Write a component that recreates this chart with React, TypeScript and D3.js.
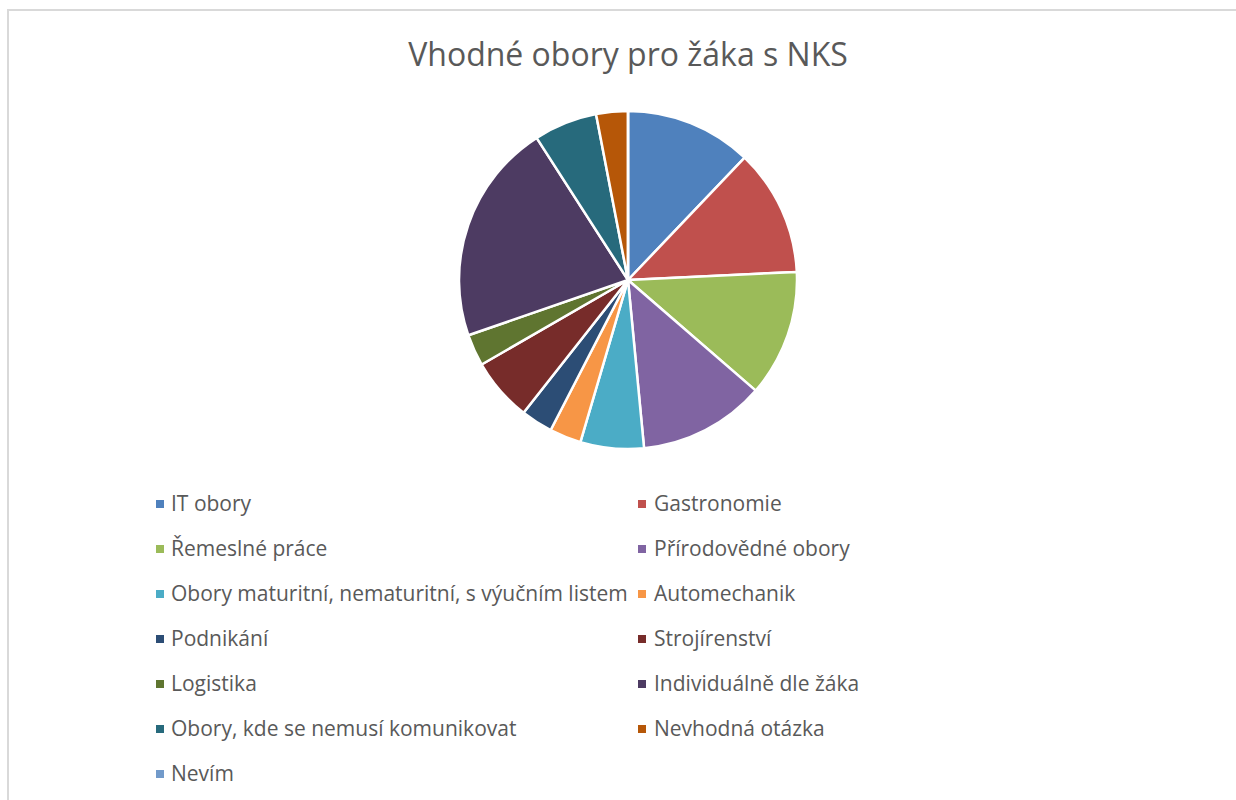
import React from "react";
import * as d3 from "d3";

const categories = [
  "IT obory",
  "Gastronomie",
  "Řemeslné práce",
  "Přírodovědné obory",
  "Obory maturitní, nematuritní, s výučním listem",
  "Automechanik",
  "Podnikání",
  "Strojírenství",
  "Logistika",
  "Individuálně dle žáka",
  "Obory, kde se nemusí komunikovat",
  "Nevhodná otázka",
  "Nevím",
];
const values = [4, 4, 4, 4, 2, 1, 1, 2, 1, 7, 2, 1, 0];
const colors = [
  "#4F81BD", "#C0504D", "#9BBB59", "#8064A2", "#4BACC6", "#F79646",
  "#2C4D75", "#772C2A", "#5F7530", "#4D3B62", "#276A7C", "#B65708", "#729ACA",
];
const title = "Vhodné obory pro žáka s NKS";

export default function App() {
  const W = 1236, H = 800;
  const cx = 628, cy = 280, r = 169;
  const pie = d3.pie<number>().sort(null).value((d) => d)(values);
  const arc = d3.arc<d3.PieArcDatum<number>>().innerRadius(0).outerRadius(r);
  const font = "'Open Sans', 'Liberation Sans', sans-serif";
  const markX = [156, 638];
  const textX = [171, 654];
  const rowY0 = 504, rowStep = 45;
  return (
    <svg width={W} height={H} style={{ position: "absolute", left: 0, top: 0 }}>
      <rect x={0} y={0} width={W} height={H} fill="#fff" />
      <rect x={8} y={10} width={W + 20} height={H + 20} fill="#fff" stroke="#D9D9D9" strokeWidth={2} />
      <text x={cx} y={66} textAnchor="middle" fontFamily={font} fontSize={32} fill="#595959">
        {title}
      </text>
      <g transform={`translate(${cx},${cy})`}>
        {pie.map((p, i) => (
          <path key={i} d={arc(p) || ""} fill={colors[i]} stroke="#fff" strokeWidth={2.5} strokeLinejoin="round" />
        ))}
      </g>
      <g>
        {categories.map((c, i) => {
          const col = i % 2;
          const row = Math.floor(i / 2);
          const y = rowY0 + row * rowStep;
          return (
            <g key={i}>
              <rect x={markX[col]} y={y - 4} width={8} height={8} fill={colors[i]} />
              <text x={textX[col]} y={y + 7} fontFamily={font} fontSize={21} fill="#595959">
                {c}
              </text>
            </g>
          );
        })}
      </g>
    </svg>
  );
}
